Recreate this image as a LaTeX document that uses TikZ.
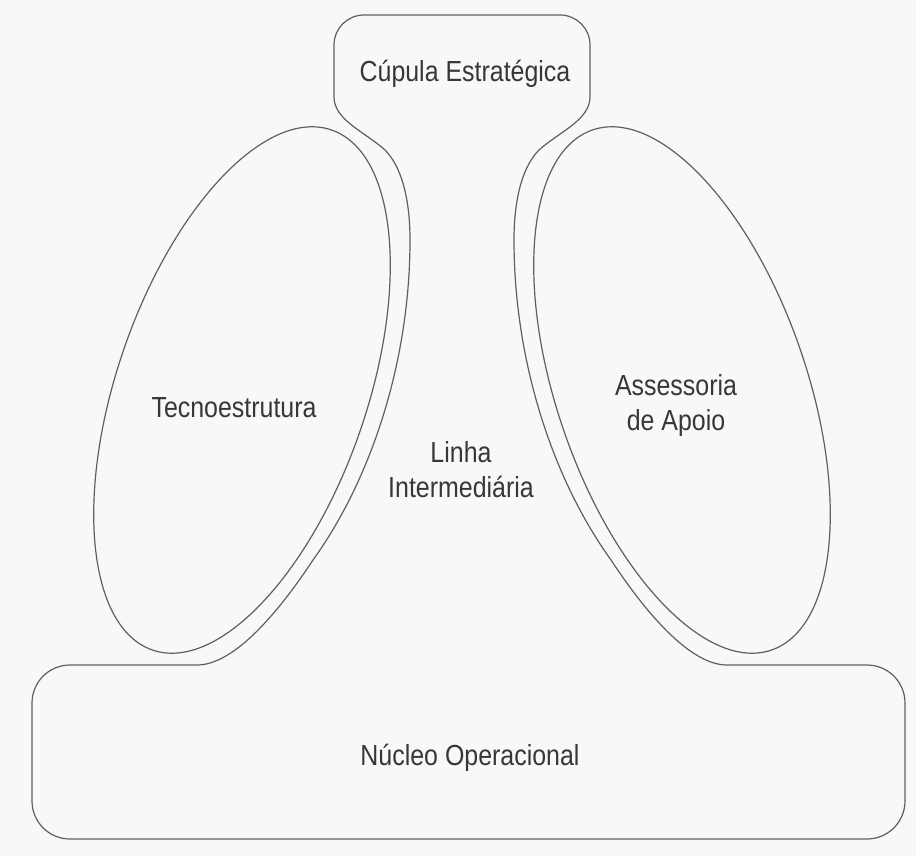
\documentclass[tikz,border=0pt]{standalone}
\usepackage{fontspec}
\setmainfont{Liberation Sans}[FakeStretch=0.86]
\definecolor{linegray}{RGB}{95,95,95}
\definecolor{textgray}{RGB}{55,55,55}
\definecolor{paper}{RGB}{248,248,246}

\begin{document}
\begin{tikzpicture}[x=1pt,y=1pt,
		part/.style={draw=linegray,line width=1.2pt},
		parttext/.style={text=textgray,font=\fontsize{29}{35}\selectfont,align=center}]
			\fill[paper] (0,0) rectangle (916,-856);
			\useasboundingbox (0,0) rectangle (916,-856);
			\draw[part] (197,-665) -- (70,-665) arc[start angle=90,end angle=180,radius=38]
				-- (32,-801) arc[start angle=180,end angle=270,radius=38]
				-- (867,-839) arc[start angle=270,end angle=360,radius=38]
				-- (905,-703) arc[start angle=0,end angle=90,radius=38]
				-- (727,-665)
				.. controls (689,-665) and (644,-610) .. (611,-560)
				.. controls (552,-478) and (514,-360) .. (514,-240)
				.. controls (514,-195) and (524,-165) .. (539,-150)
				.. controls (559,-132) and (590,-120) .. (590,-97)
				-- (590,-45) arc[start angle=0,end angle=90,radius=30]
				-- (364,-15) arc[start angle=90,end angle=180,radius=30]
				-- (334,-97)
				.. controls (334,-120) and (365,-132) .. (385,-150)
				.. controls (400,-165) and (410,-195) .. (410,-240)
				.. controls (410,-360) and (372,-478) .. (313,-560)
				.. controls (280,-610) and (235,-665) .. (197,-665) -- cycle;
			\draw[part,rotate around={-19:(242,-390)}] (242,-390) ellipse[x radius=125,y radius=275];
			\draw[part,rotate around={19:(682,-390)}] (682,-390) ellipse[x radius=125,y radius=275];
			\node[parttext,anchor=base] (cupula) at (465,-82) {Cúpula Estratégica};
			\node[parttext,anchor=base] (tecno) at (234,-417) {Tecnoestrutura};
			\node[parttext] (linha) at (461,-470) {Linha\\Intermediária};
			\node[parttext] (apoio) at (676,-405) {Assessoria\\de Apoio};
			\node[parttext,anchor=base] (nucleo) at (470,-765) {Núcleo Operacional};
		\end{tikzpicture}
\end{document}
